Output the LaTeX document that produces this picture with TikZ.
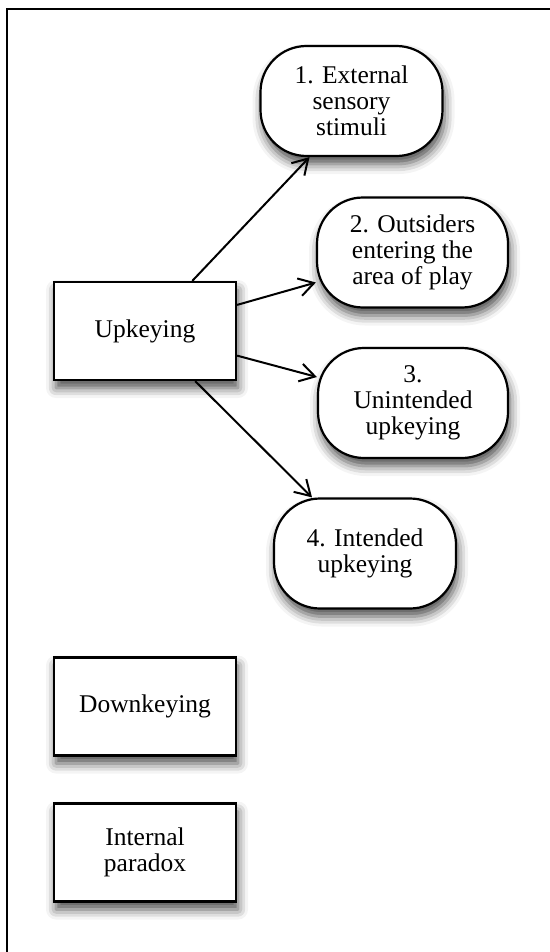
\documentclass[tikz,border=0pt]{standalone}
\usepackage{fontspec}
\setmainfont{Liberation Serif}
\usetikzlibrary{arrows.meta,shadows.blur}
\begin{document}
\begin{tikzpicture}[x=1pt,y=-1pt,
  box/.style={draw=black, line width=2.2pt, fill=white,
    minimum width=182pt, minimum height=98pt, inner sep=0pt,
    align=center, font=\fontsize{25.5}{26}\selectfont,
    blur shadow={shadow xshift=2pt, shadow yshift=-8pt,
      shadow blur radius=10pt, shadow opacity=70}},
  pill/.style={box, rounded corners=46pt, minimum height=110pt},
  link/.style={line width=2pt,
    -{Straight Barb[length=15pt,width=18pt,line width=2pt]}}
]
\useasboundingbox (0,0) rectangle (549,952);
% page frame, only its top and left edges fall inside the page
\draw[line width=2.4pt] (7,960) -- (7,9) -- (560,9);

\node[box] (up) at (145,331) {Upkeying};
\node[box] (down) at (145,706.5) {Downkeying};
\node[box] (para) at (145,852.5) {Internal\\paradox};

\node[pill] (n1) at (351.5,101) {1. External\\sensory\\stimuli};
\node[pill, minimum width=191pt] (n2) at (412.5,252.5) {2. Outsiders\\entering the\\area of play};
\node[pill, minimum width=190pt] (n3) at (413,403) {3.\\Unintended\\upkeying};
\node[pill] (n4) at (365,553.5) {4. Intended\\upkeying};

\draw[link] (up) -- ([xshift=-42pt]n1.south);
\draw[link] (up) -- ([yshift=-30pt]n2.west);
\draw[link] (up) -- ([yshift=26pt]n3.west);
\draw[link] (up) -- ([xshift=-53pt]n4.north);
\end{tikzpicture}
\end{document}
